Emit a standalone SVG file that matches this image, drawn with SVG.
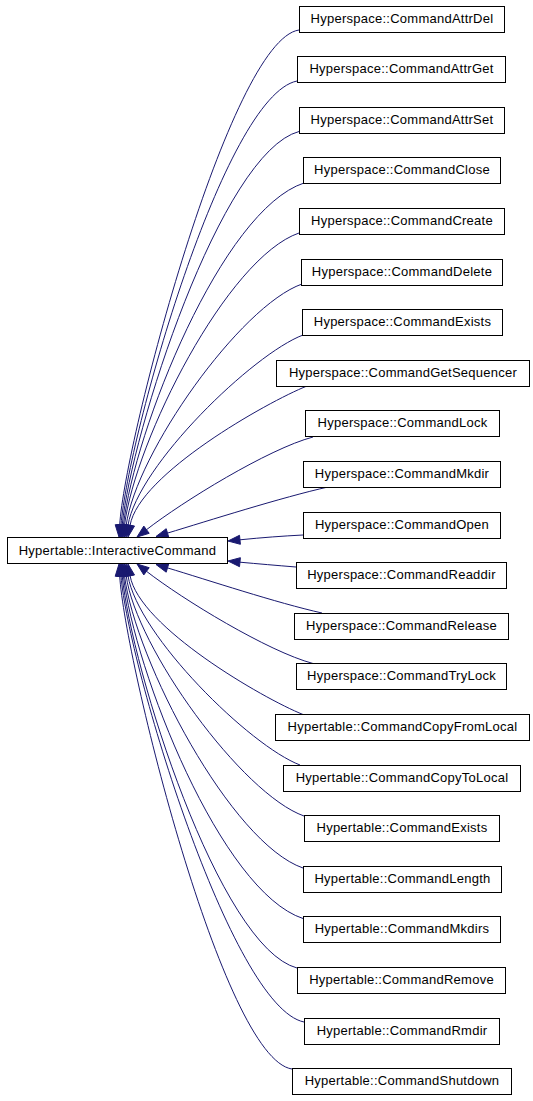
<svg xmlns="http://www.w3.org/2000/svg" width="533" height="1101" viewBox="0 0 533 1101">
<style>
.n rect{fill:#fff;stroke:#000;stroke-width:1}
.n text{font-family:"Liberation Sans",Arial,sans-serif;font-size:13px;letter-spacing:0.25px;fill:#000;text-anchor:middle}
.e path{fill:none;stroke:#191970;stroke-width:1}
.e polygon{fill:#191970;stroke:#191970;stroke-width:1;stroke-linejoin:miter}
</style>
<rect width="533" height="1101" fill="#fff"/>
<g id="edges" class="e">
<path d="M119.7,525 C124.7,441 230,40 299,30"/><polygon points="119,537 124.2,525.3 115.2,524.7"/>
<path d="M121,525 C128,437 224,96 297,81"/><polygon points="120,537 125.5,525.4 116.5,524.6"/>
<path d="M122.2,525.1 C131.2,433.1 221,152.5 299,131.5"/><polygon points="121,537 126.7,525.5 117.7,524.7"/>
<path d="M123.4,525.1 C134.4,430.1 222,210 304,183"/><polygon points="122,537 127.9,525.6 118.9,524.6"/>
<path d="M124.5,525.1 C135.5,440.1 227,258 299,233"/><polygon points="123,537 129,525.7 120,524.5"/>
<path d="M126.2,525.1 C136.2,453.1 240,306 302,284"/><polygon points="124.5,537 130.7,525.7 121.7,524.5"/>
<path d="M128,525.2 C138,465.2 253,354 303,335"/><polygon points="126,537 132.4,525.9 123.6,524.5"/>
<path d="M130.1,525.2 C139.1,474.2 267,402 307,386"/><polygon points="128,537 134.5,526 125.7,524.4"/>
<path d="M146.5,529.7 C182.5,501.7 268,449 313,437"/><polygon points="137,537 149.2,533.3 143.8,526.1"/>
<path d="M167.5,533.1 C207.5,521 283,497 328,487"/><polygon points="156,536.5 168.8,537.4 166.2,528.7"/>
<path d="M239.9,539.8 C262,537.6 283,536 303,535"/><polygon points="228,541 240.4,544.3 239.5,535.3"/>
<path d="M239.9,562.2 C258,563.8 277,565.5 296,567"/><polygon points="228,561 239.5,566.7 240.4,557.7"/>
<path d="M167.5,567.9 C207.5,579.9 277,603 322,613"/><polygon points="156,564.5 168.8,563.6 166.2,572.2"/>
<path d="M146.5,571.3 C182.5,599.3 268,651.5 313,663.5"/><polygon points="137,564 149.2,567.7 143.8,574.9"/>
<path d="M130.1,575.8 C139.1,626.8 263,698.5 303,714.5"/><polygon points="128,564 134.5,575 125.7,576.6"/>
<path d="M128,575.8 C138,635.8 250,746 300,765"/><polygon points="126,564 132.4,575.1 123.6,576.5"/>
<path d="M126.2,575.9 C136.2,647.9 242,794 304,816"/><polygon points="124.5,564 130.7,575.3 121.7,576.5"/>
<path d="M124.5,575.9 C135.5,660.9 231,843 303,868"/><polygon points="123,564 129,575.3 120,576.5"/>
<path d="M123.4,575.9 C134.4,670.9 221,891.5 303,918.5"/><polygon points="122,564 127.9,575.4 118.9,576.4"/>
<path d="M122.2,575.9 C131.2,667.9 219,947 297,968"/><polygon points="121,564 126.7,575.5 117.7,576.3"/>
<path d="M121,576 C128,664 231,1007 304,1022"/><polygon points="120,564 125.5,575.6 116.5,576.4"/>
<path d="M119.7,576 C124.7,660 223,1059 292,1069"/><polygon points="119,564 124.2,575.7 115.2,576.3"/>
</g>
<g id="InteractiveCommand" class="n"><rect x="7.5" y="537.5" width="220" height="26"/><text x="117.5" y="555">Hypertable::InteractiveCommand</text></g>
<g id="CommandAttrDel" class="n"><rect x="299.5" y="6.5" width="205" height="26"/><text x="402" y="23">Hyperspace::CommandAttrDel</text></g>
<g id="CommandAttrGet" class="n"><rect x="297.5" y="56.5" width="208" height="26"/><text x="401.5" y="73">Hyperspace::CommandAttrGet</text></g>
<g id="CommandAttrSet" class="n"><rect x="299.5" y="107.5" width="205" height="26"/><text x="402" y="124">Hyperspace::CommandAttrSet</text></g>
<g id="CommandClose" class="n"><rect x="303.5" y="157.5" width="197" height="26"/><text x="402" y="174">Hyperspace::CommandClose</text></g>
<g id="CommandCreate" class="n"><rect x="299.5" y="208.5" width="205" height="26"/><text x="402" y="225">Hyperspace::CommandCreate</text></g>
<g id="CommandDelete" class="n"><rect x="301.5" y="259.5" width="201" height="26"/><text x="402" y="276">Hyperspace::CommandDelete</text></g>
<g id="CommandExists" class="n"><rect x="302.5" y="309.5" width="200" height="26"/><text x="402.5" y="326">Hyperspace::CommandExists</text></g>
<g id="CommandGetSequencer" class="n"><rect x="276.5" y="360.5" width="253" height="26"/><text x="403" y="377">Hyperspace::CommandGetSequencer</text></g>
<g id="CommandLock" class="n"><rect x="305.5" y="410.5" width="194" height="26"/><text x="402.5" y="427">Hyperspace::CommandLock</text></g>
<g id="CommandMkdir" class="n"><rect x="303.5" y="461.5" width="197" height="26"/><text x="402" y="478">Hyperspace::CommandMkdir</text></g>
<g id="CommandOpen" class="n"><rect x="303.5" y="512.5" width="197" height="26"/><text x="402" y="529">Hyperspace::CommandOpen</text></g>
<g id="CommandReaddir" class="n"><rect x="296.5" y="562.5" width="210" height="26"/><text x="401.5" y="579">Hyperspace::CommandReaddir</text></g>
<g id="CommandRelease" class="n"><rect x="294.5" y="613.5" width="214" height="26"/><text x="401.5" y="630">Hyperspace::CommandRelease</text></g>
<g id="CommandTryLock" class="n"><rect x="296.5" y="663.5" width="210" height="26"/><text x="401.5" y="680">Hyperspace::CommandTryLock</text></g>
<g id="CommandCopyFromLocal" class="n"><rect x="275.5" y="714.5" width="254" height="26"/><text x="402.5" y="731">Hypertable::CommandCopyFromLocal</text></g>
<g id="CommandCopyToLocal" class="n"><rect x="283.5" y="765.5" width="237" height="26"/><text x="402" y="782">Hypertable::CommandCopyToLocal</text></g>
<g id="HtCommandExists" class="n"><rect x="304.5" y="815.5" width="195" height="26"/><text x="402" y="832">Hypertable::CommandExists</text></g>
<g id="CommandLength" class="n"><rect x="303.5" y="866.5" width="198" height="26"/><text x="402.5" y="883">Hypertable::CommandLength</text></g>
<g id="CommandMkdirs" class="n"><rect x="303.5" y="916.5" width="197" height="26"/><text x="402" y="933">Hypertable::CommandMkdirs</text></g>
<g id="CommandRemove" class="n"><rect x="297.5" y="967.5" width="208" height="26"/><text x="401.5" y="984">Hypertable::CommandRemove</text></g>
<g id="CommandRmdir" class="n"><rect x="304.5" y="1018.5" width="195" height="26"/><text x="402" y="1035">Hypertable::CommandRmdir</text></g>
<g id="CommandShutdown" class="n"><rect x="292.5" y="1068.5" width="219" height="26"/><text x="402" y="1085">Hypertable::CommandShutdown</text></g>
</svg>
